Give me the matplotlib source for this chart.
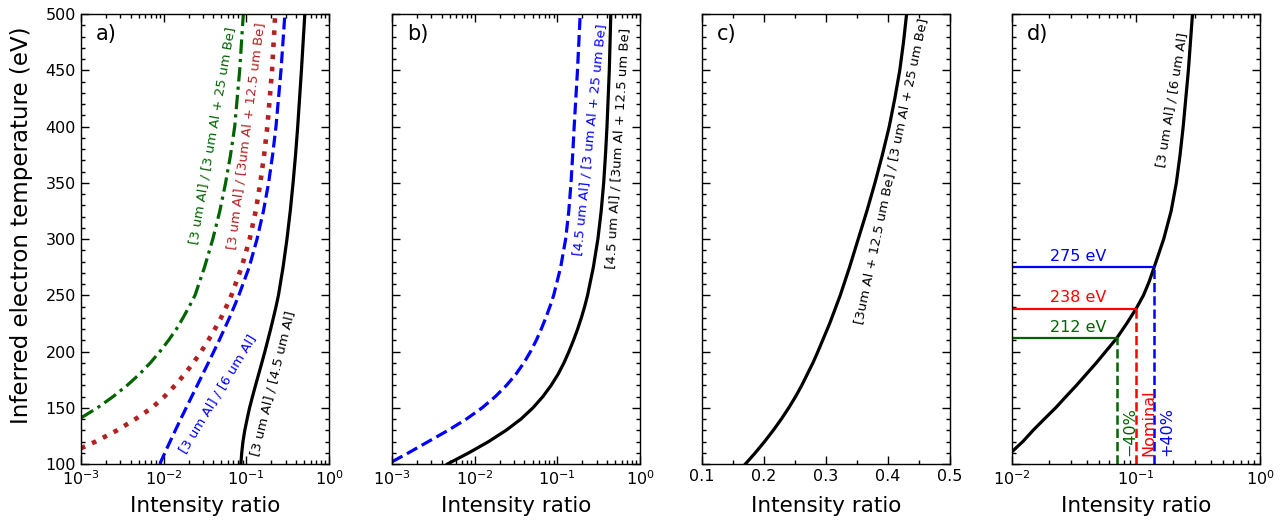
import matplotlib
matplotlib.use('Agg')
import matplotlib.pyplot as plt
from matplotlib.ticker import MultipleLocator

# panel a)
black_a_T = [100, 110, 120, 130, 140, 150, 160, 170, 180, 190, 200, 210, 220, 230, 240, 250,
             275, 300, 325, 350, 375, 400, 450, 500]
black_a_R = [0.0859, 0.0881, 0.0912, 0.0959, 0.1023, 0.1096, 0.1189, 0.1294, 0.1413, 0.1542, 0.1679,
             0.182, 0.1972, 0.2128, 0.2291, 0.2449, 0.2786, 0.3105, 0.3404, 0.3681, 0.3945, 0.4188,
             0.4645, 0.5105]
blue_a_T = [100, 110, 120, 130, 140, 150, 160, 170, 180, 190, 200, 210, 220, 230, 240, 250,
            275, 300, 325, 350, 375, 400, 450, 500]
blue_a_R = [0.0090, 0.01035, 0.01197, 0.01387, 0.01611, 0.01875, 0.02188, 0.02553, 0.02979, 0.03475,
            0.04046, 0.04699, 0.05433, 0.06252, 0.07145, 0.08128, 0.1084, 0.1349, 0.1614, 0.1862,
            0.2084, 0.2286, 0.2630, 0.2931]
red_a_T = [114, 120, 130, 140, 150, 160, 170, 180, 190, 200, 210, 220, 230, 240, 250,
           275, 300, 325, 350, 375, 400, 450, 500]
red_a_R = [0.001, 0.00151, 0.00275, 0.00457, 0.00724, 0.01023, 0.0138, 0.0180, 0.0229, 0.0285, 0.0347,
           0.0417, 0.0495, 0.0575, 0.0661, 0.0879, 0.1099, 0.1300, 0.1479, 0.1644, 0.1799, 0.2051, 0.2239]
green_a_T = [141, 150, 160, 170, 180, 190, 200, 210, 220, 230, 240, 250,
             275, 300, 325, 350, 375, 400, 450, 500]
green_a_R = [0.001, 0.001585, 0.002455, 0.003631, 0.005129, 0.006918, 0.009016, 0.01148, 0.01429,
             0.01718, 0.02042, 0.02399, 0.03126, 0.03936, 0.04786, 0.05623, 0.06457, 0.07244,
             0.08318, 0.09204]

# panel b)
blue_b_T = [102, 110, 120, 130, 140, 150, 160, 170, 180, 190, 200, 210, 220, 230, 240, 250,
            275, 300, 325, 350, 375, 400, 450, 500]
blue_b_R = [0.001, 0.001585, 0.002754, 0.004786, 0.007943, 0.0123, 0.01778, 0.02427, 0.03162, 0.03936,
            0.04732, 0.05559, 0.06383, 0.07244, 0.08128, 0.09016, 0.1096, 0.1259, 0.1374, 0.1462,
            0.1531, 0.1596, 0.1750, 0.1888]
black_b_T = [100, 110, 120, 130, 140, 150, 160, 170, 180, 190, 200, 210, 220, 230, 240, 250,
             275, 300, 325, 350, 375, 400, 450, 500]
black_b_R = [0.004677, 0.008511, 0.01479, 0.02399, 0.03631, 0.05070, 0.06683, 0.08414, 0.1023, 0.1202,
             0.1380, 0.1567, 0.1758, 0.1950, 0.2138, 0.2317, 0.2723, 0.3090, 0.3388, 0.3631, 0.3819,
             0.3981, 0.4246, 0.4426]

# panel c)
c_T = [100, 110, 120, 130, 140, 150, 160, 170, 180, 190, 200, 225, 250, 275, 300, 325, 350,
       375, 400, 425, 450, 475, 500]
c_R = [0.170, 0.186, 0.201, 0.215, 0.228, 0.240, 0.251, 0.261, 0.270, 0.279, 0.287, 0.306, 0.323,
       0.338, 0.352, 0.366, 0.379, 0.391, 0.402, 0.411, 0.419, 0.425, 0.430]

# panel d)
d_T = [111, 120, 130, 140, 150, 160, 170, 180, 190, 200, 212, 225, 238, 250, 262, 275, 300, 325,
       350, 375, 400, 450, 500]
d_R = [0.01, 0.01222, 0.01479, 0.0182, 0.02249, 0.02723, 0.03311, 0.03981, 0.04786, 0.05689, 0.07,
       0.08414, 0.1, 0.1148, 0.1274, 0.14, 0.1671, 0.1919, 0.2113, 0.2265, 0.2399, 0.2642, 0.2851]
d_marks_T = [275, 238, 212]
d_marks_R = [0.14, 0.1, 0.07]
d_marks_col = ['blue', 'red', 'darkgreen']
d_marks_lab = ['275 eV', '238 eV', '212 eV']
d_pct_lab = ['+40%', 'Nominal', '\u221240%']

fig = plt.figure(figsize=(12.85, 5.23), dpi=100)
lefts = [0.0630, 0.3051, 0.5463, 0.7876]
axs = [fig.add_axes([l, 0.1128, 0.1930, 0.8604]) for l in lefts]

lw = 2.3
cfs = 9.5
ax = axs[0]
ax.plot(green_a_R, green_a_T, color='darkgreen', lw=lw, dashes=(4.5, 1.6, 1, 1.6))
ax.plot(red_a_R, red_a_T, color='firebrick', lw=3.3, ls=':')
ax.plot(blue_a_R, blue_a_T, color='blue', lw=lw, ls='--')
ax.plot(black_a_R, black_a_T, color='black', lw=lw)
ax.set_xscale('log')
ax.set_xlim(1e-3, 1)
ax.text(0.214, 172, '[3 um Al] / [4.5 um Al]', color='black', fontsize=cfs, rotation=76,
        rotation_mode='anchor', ha='center', va='center')
ax.text(0.0454, 162, '[3 um Al] / [6 um Al]', color='blue', fontsize=cfs, rotation=58.7,
        rotation_mode='anchor', ha='center', va='center')
ax.text(0.0394, 392, '[3 um Al] / [3 um Al + 25 um Be]', color='darkgreen', fontsize=cfs, rotation=80.2,
        rotation_mode='anchor', ha='center', va='center')
ax.text(0.1016, 392, '[3 um Al] / [3um Al + 12.5 um Be]', color='firebrick', fontsize=cfs, rotation=82.7,
        rotation_mode='anchor', ha='center', va='center')
ax.set_ylabel('Inferred electron temperature (eV)', fontsize=16.5)
ax.yaxis.set_label_coords(-0.195, 0.53)

ax = axs[1]
ax.plot(blue_b_R, blue_b_T, color='blue', lw=lw, ls='--')
ax.plot(black_b_R, black_b_T, color='black', lw=lw)
ax.set_xscale('log')
ax.set_xlim(1e-3, 1)
ax.text(0.25, 388, '[4.5 um Al] / [3 um Al + 25 um Be]', color='blue', fontsize=cfs, rotation=84,
        rotation_mode='anchor', ha='center', va='center')
ax.text(0.54, 381, '[4.5 um Al] / [3um Al + 12.5 um Be]', color='black', fontsize=cfs, rotation=86.5,
        rotation_mode='anchor', ha='center', va='center')

ax = axs[2]
ax.plot(c_R, c_T, color='black', lw=lw)
ax.set_xlim(0.1, 0.5)
ax.xaxis.set_major_locator(MultipleLocator(0.1))
ax.xaxis.set_minor_locator(MultipleLocator(0.05))
ax.text(0.405, 360, '[3um Al + 12.5 um Be] / [3 um Al + 25 um Be]', color='black', fontsize=cfs,
        rotation=78, rotation_mode='anchor', ha='center', va='center')

ax = axs[3]
ax.plot(d_R, d_T, color='black', lw=lw)
for T, R, col, lab, pct in zip(d_marks_T, d_marks_R, d_marks_col, d_marks_lab, d_pct_lab):
    ax.plot([0.01, R], [T, T], color=col, lw=1.6)
    ax.plot([R, R], [100, T], color=col, lw=1.8, ls='--')
    ax.text(0.0343, T + 3, lab, color=col, fontsize=11.5, ha='center', va='bottom')
    ax.text(R * 1.1, 107, pct, color=col, fontsize=11.5, rotation=90, ha='left', va='bottom')
ax.set_xscale('log')
ax.set_xlim(1e-2, 1)
ax.text(0.196, 424, '[3 um Al] / [6 um Al]', color='black', fontsize=cfs, rotation=80.5,
        rotation_mode='anchor', ha='center', va='center')

for ax, let in zip(axs, ['a)', 'b)', 'c)', 'd)']):
    ax.set_ylim(100, 500)
    ax.yaxis.set_major_locator(MultipleLocator(50))
    ax.yaxis.set_minor_locator(MultipleLocator(10))
    ax.tick_params(which='both', direction='in', top=True, right=True, labelsize=11.5)
    ax.tick_params(which='major', length=6, width=1)
    ax.tick_params(which='minor', length=3, width=1)
    for s in ax.spines.values():
        s.set_linewidth(1)
    ax.set_xlabel('Intensity ratio', fontsize=15.5)
    ax.xaxis.set_label_coords(0.5, -0.071)
    ax.text(0.06, 0.955, let, transform=ax.transAxes, fontsize=15, ha='left', va='center')
    if ax is not axs[0]:
        ax.tick_params(labelleft=False)

fig.savefig('out.png', dpi=100)
